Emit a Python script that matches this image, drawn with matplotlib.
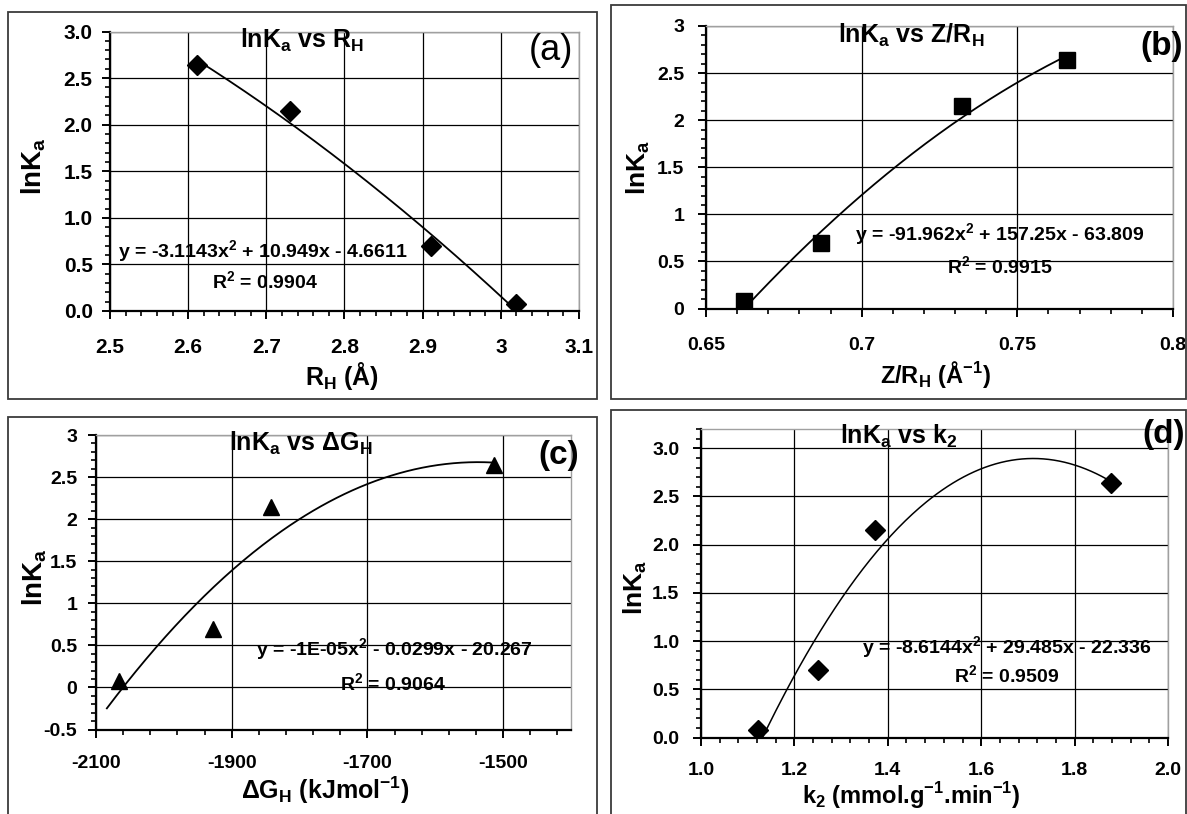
import numpy as np
import matplotlib
matplotlib.use("Agg")
import matplotlib.pyplot as plt
from matplotlib.patches import Rectangle
from matplotlib.ticker import MultipleLocator, FormatStrFormatter

plt.rcParams['font.family'] = ['Liberation Sans', 'DejaVu Sans']
plt.rcParams['font.weight'] = 'bold'
plt.rcParams['mathtext.fontset'] = 'custom'
plt.rcParams['mathtext.rm'] = 'Liberation Sans'
plt.rcParams['mathtext.bf'] = 'Liberation Sans:bold'

# ---------------- data ----------------
lnKa = [2.64, 2.15, 0.70, 0.08]
R_H = [2.611, 2.730, 2.911, 3.020]
Z_RH = [0.7658, 0.7322, 0.6869, 0.6622]
dG_H = [-1513, -1842, -1927, -2066]
k2 = [1.877, 1.373, 1.251, 1.123]

fit_a = [-3.1143, 10.949, -4.6611]
fit_b = [-91.962, 157.25, -63.809]
fit_d = [-8.6144, 29.485, -22.336]

eq_a = ['y = -3.1143x$^\\mathregular{2}$ + 10.949x - 4.6611', 'R$^\\mathregular{2}$ = 0.9904']
eq_b = ['y = -91.962x$^\\mathregular{2}$ + 157.25x - 63.809', 'R$^\\mathregular{2}$ = 0.9915']
eq_c = ['y = -1E-05x$^\\mathregular{2}$ - 0.0299x - 20.267', 'R$^\\mathregular{2}$ = 0.9064']
eq_d = ['y = -8.6144x$^\\mathregular{2}$ + 29.485x - 22.336', 'R$^\\mathregular{2}$ = 0.9509']

W, H = 1187, 814
fig = plt.figure(figsize=(W / 100, H / 100), dpi=100)


def rect(l, t, r, b):
    return [l / W, 1 - b / H, (r - l) / W, (b - t) / H]


def ftext(x, y, s, **kw):
    fig.text(x / W, 1 - y / H, s, ha='center', va='center', **kw)


def border(l, t, r, b):
    fig.patches.append(Rectangle((l / W, 1 - b / H), (r - l) / W, (b - t) / H,
                                 transform=fig.transFigure, fill=False,
                                 edgecolor='#3a3a3a', linewidth=1.3))


def style_ax(ax, xlim, ylim, xmaj, ymaj, xfmt, yfmt, fs, xpad, ypad, xoff=0.0):
    ax.set_xlim(*xlim)
    ax.set_ylim(*ylim)
    ax.xaxis.set_major_locator(MultipleLocator(xmaj, offset=xoff))
    ax.xaxis.set_minor_locator(MultipleLocator(xmaj / 5, offset=xoff % (xmaj / 5) if xoff else 0.0))
    ax.yaxis.set_major_locator(MultipleLocator(ymaj))
    ax.yaxis.set_minor_locator(MultipleLocator(ymaj / 5))
    ax.xaxis.set_major_formatter(xfmt)
    ax.yaxis.set_major_formatter(yfmt)
    ax.grid(True, which='major', color='black', linewidth=0.9)
    ax.set_axisbelow(True)
    for s in ['top', 'right']:
        ax.spines[s].set_color('#a0a0a0')
        ax.spines[s].set_linewidth(1.0)
    for s in ['left', 'bottom']:
        ax.spines[s].set_color('black')
        ax.spines[s].set_linewidth(1.6)
    ax.tick_params(which='major', direction='out', length=5.5, width=1.4, labelsize=fs)
    ax.tick_params(which='minor', direction='out', length=3.5, width=1.2)
    ax.tick_params(axis='x', which='major', pad=xpad)
    ax.tick_params(axis='y', which='major', pad=ypad)


# ---------------- panel (a) ----------------
border(8, 12, 597, 399)
axa = fig.add_axes(rect(110, 31.5, 579, 311))
style_ax(axa, (2.5, 3.1), (0, 3.0), 0.1, 0.5,
         FormatStrFormatter('%g'), FormatStrFormatter('%.1f'), 15, 14, 7)
xa = np.linspace(min(R_H), max(R_H), 200)
axa.plot(xa, np.polyval(fit_a, xa), color='black', lw=1.3)
axa.plot(R_H, lnKa, linestyle='none', marker='D', ms=10, color='black')
ftext(302, 40, 'lnK$_\\mathregular{a}$ vs R$_\\mathregular{H}$', fontsize=18)
ftext(551, 50, '(a)', fontsize=26, fontweight='normal')
ftext(263, 252, eq_a[0], fontsize=14)
ftext(265, 282, eq_a[1], fontsize=14)
ftext(34, 166, 'lnK$_\\mathregular{a}$', fontsize=20, rotation=90)
ftext(342, 376, 'R$_\\mathregular{H}$ (Å)', fontsize=18)

# ---------------- panel (b) ----------------
border(611, 5, 1186, 399)
axb = fig.add_axes(rect(706, 26, 1173, 308.5))
style_ax(axb, (0.65, 0.8), (0, 3.0), 0.05, 0.5,
         FormatStrFormatter('%g'), FormatStrFormatter('%g'), 14, 15, 10)
xb = np.linspace(min(Z_RH), max(Z_RH), 200)
axb.plot(xb, np.polyval(fit_b, xb), color='black', lw=1.3)
axb.plot(Z_RH, lnKa, linestyle='none', marker='s', ms=12, color='black')
ftext(911, 35, 'lnK$_\\mathregular{a}$ vs Z/R$_\\mathregular{H}$', fontsize=18)
ftext(1162, 46, '(b)', fontsize=24)
ftext(1000, 235, eq_b[0], fontsize=14)
ftext(1000, 267, eq_b[1], fontsize=14)
ftext(638, 167, 'lnK$_\\mathregular{a}$', fontsize=19, rotation=90)
ftext(935, 374, 'Z/R$_\\mathregular{H}$ (Å$^\\mathregular{-1}$)', fontsize=17)

# ---------------- panel (c) ----------------
border(8, 417, 597, 818)
axc = fig.add_axes(rect(96, 435, 571, 729.5))
style_ax(axc, (-2100, -1400), (-0.5, 3.0), 200, 0.5,
         FormatStrFormatter('%g'), FormatStrFormatter('%g'), 14, 13, 8, xoff=100)
coef_c = np.polyfit(dG_H, lnKa, 2)
xc = np.linspace(min(dG_H) - 18, max(dG_H), 200)
axc.plot(xc, np.polyval(coef_c, xc), color='black', lw=1.3)
axc.plot(dG_H, lnKa, linestyle='none', marker='^', ms=12, color='black')
ftext(301, 443, 'lnK$_\\mathregular{a}$ vs ΔG$_\\mathregular{H}$', fontsize=18)
ftext(559, 455, '(c)', fontsize=24)
ftext(394, 650, eq_c[0], fontsize=14)
ftext(393, 684, eq_c[1], fontsize=14)
ftext(35, 577, 'lnK$_\\mathregular{a}$', fontsize=20, rotation=90)
ftext(325, 790, 'ΔG$_\\mathregular{H}$ (kJmol$^\\mathregular{-1}$)', fontsize=18)

# ---------------- panel (d) ----------------
border(611, 410, 1186, 818)
axd = fig.add_axes(rect(701, 429, 1168, 737.5))
style_ax(axd, (1.0, 2.0), (0, 3.2), 0.2, 0.5,
         FormatStrFormatter('%.1f'), FormatStrFormatter('%.1f'), 14, 12, 10)
xd = np.linspace(min(k2), max(k2), 200)
axd.plot(xd, np.polyval(fit_d, xd), color='black', lw=1.1)
axd.plot(k2, lnKa, linestyle='none', marker='D', ms=10, color='black')
ftext(899, 436, 'lnK$_\\mathregular{a}$ vs k$_\\mathregular{2}$', fontsize=18)
ftext(1164, 435, '(d)', fontsize=24)
ftext(1007, 648, eq_d[0], fontsize=14)
ftext(1007, 676, eq_d[1], fontsize=14)
ftext(635, 587, 'lnK$_\\mathregular{a}$', fontsize=19, rotation=90)
ftext(911, 796, 'k$_\\mathregular{2}$ (mmol.g$^\\mathregular{-1}$.min$^\\mathregular{-1}$)', fontsize=17)

fig.savefig('out.png', dpi=100)
